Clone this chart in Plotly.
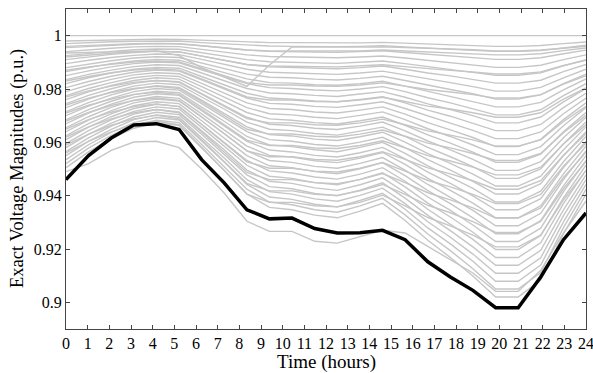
import plotly.graph_objects as go

# time stamps (hours)
hours = [0, 1.04, 2.09, 3.13, 4.17, 5.22, 6.26, 7.30, 8.35, 9.39, 10.43, 11.48,
         12.52, 13.57, 14.61, 15.65, 16.70, 17.74, 18.78, 19.83, 20.87, 21.91, 22.96, 24]

# highlighted (lowest) bus
worst_bus = [0.946, 0.955, 0.9616, 0.9665, 0.967, 0.9648, 0.9535, 0.9448, 0.9347, 0.9313, 0.9316, 0.9277,
             0.926, 0.9261, 0.927, 0.9235, 0.9152, 0.9095, 0.9045, 0.898, 0.898, 0.9095, 0.9235, 0.9335]

# all other buses
other_buses = [
    [1.0] * 24,
    [.9980,.9982,.9984,.9986,.9987,.9986,.9983,.9980,.9976,.9974,.9974,.9973,.9972,.9973,.9975,.9972,.9969,.9966,.9964,.9960,.9960,.9963,.9970,.9976],
    [.9970,.9974,.9977,.9979,.9980,.9980,.9974,.9969,.9964,.9961,.9960,.9959,.9959,.9960,.9962,.9958,.9953,.9950,.9945,.9941,.9941,.9944,.9955,.9964],
    [.9955,.9960,.9965,.9968,.9970,.9969,.9962,.9954,.9946,.9941,.9941,.9939,.9938,.9940,.9943,.9937,.9930,.9924,.9918,.9911,.9911,.9917,.9932,.9946],
    [.9940,.9947,.9953,.9958,.9960,.9959,.9949,.9939,.9928,.9922,.9921,.9918,.9917,.9920,.9924,.9916,.9907,.9899,.9891,.9881,.9881,.9889,.9910,.9928],
    [.9925,.9934,.9941,.9947,.9950,.9949,.9936,.9923,.9910,.9902,.9901,.9898,.9896,.9900,.9905,.9895,.9884,.9874,.9863,.9851,.9851,.9861,.9887,.9910],
    [.9910,.9921,.9930,.9937,.9941,.9939,.9923,.9908,.9892,.9883,.9881,.9878,.9876,.9880,.9886,.9874,.9860,.9849,.9836,.9822,.9822,.9833,.9865,.9892],
    [.9895,.9908,.9918,.9926,.9931,.9929,.9911,.9893,.9874,.9863,.9861,.9857,.9855,.9860,.9867,.9853,.9837,.9824,.9809,.9792,.9792,.9806,.9842,.9874],
    [.9880,.9894,.9906,.9916,.9921,.9918,.9898,.9878,.9856,.9844,.9842,.9837,.9834,.9840,.9848,.9832,.9814,.9798,.9782,.9762,.9762,.9778,.9820,.9856],
    [.9865,.9881,.9895,.9905,.9911,.9908,.9885,.9862,.9838,.9824,.9822,.9816,.9814,.9820,.9829,.9811,.9791,.9773,.9754,.9733,.9733,.9750,.9797,.9838],
    [.9850,.9868,.9883,.9895,.9901,.9898,.9872,.9847,.9820,.9805,.9802,.9796,.9793,.9800,.9809,.9790,.9767,.9748,.9727,.9703,.9703,.9722,.9775,.9820],
    [.9835,.9855,.9871,.9884,.9891,.9888,.9860,.9832,.9802,.9785,.9782,.9776,.9772,.9781,.9790,.9769,.9744,.9723,.9700,.9673,.9673,.9695,.9752,.9802],
    [.9820,.9842,.9860,.9874,.9881,.9878,.9847,.9816,.9784,.9766,.9762,.9755,.9752,.9761,.9771,.9748,.9721,.9698,.9672,.9644,.9644,.9667,.9730,.9784],
    [.9805,.9828,.9848,.9863,.9871,.9867,.9834,.9801,.9766,.9746,.9743,.9735,.9731,.9741,.9752,.9727,.9698,.9672,.9645,.9614,.9614,.9639,.9707,.9766],
    [.9790,.9815,.9836,.9853,.9861,.9857,.9821,.9786,.9748,.9727,.9723,.9714,.9710,.9721,.9733,.9706,.9674,.9647,.9618,.9584,.9584,.9611,.9685,.9748],
    [.9775,.9802,.9824,.9842,.9851,.9847,.9809,.9770,.9730,.9707,.9703,.9694,.9689,.9701,.9714,.9685,.9651,.9622,.9590,.9554,.9554,.9584,.9662,.9730],
    [.9760,.9789,.9813,.9832,.9842,.9837,.9796,.9755,.9712,.9688,.9683,.9674,.9669,.9681,.9695,.9664,.9628,.9597,.9563,.9525,.9525,.9556,.9640,.9712],
    [.9745,.9776,.9801,.9821,.9832,.9827,.9783,.9740,.9694,.9668,.9663,.9653,.9648,.9661,.9676,.9643,.9605,.9572,.9536,.9495,.9495,.9528,.9617,.9694],
    [.9730,.9762,.9789,.9811,.9822,.9816,.9770,.9725,.9676,.9649,.9644,.9633,.9627,.9641,.9657,.9622,.9581,.9546,.9509,.9465,.9465,.9500,.9595,.9676],
    [.9715,.9749,.9778,.9800,.9812,.9806,.9758,.9709,.9658,.9629,.9624,.9612,.9607,.9621,.9638,.9601,.9558,.9521,.9481,.9436,.9436,.9473,.9572,.9658],
    [.9700,.9736,.9766,.9790,.9802,.9796,.9745,.9694,.9640,.9610,.9604,.9592,.9586,.9601,.9619,.9580,.9535,.9496,.9454,.9406,.9406,.9445,.9550,.9640],
    [.9685,.9723,.9754,.9779,.9792,.9786,.9732,.9679,.9622,.9590,.9584,.9572,.9565,.9581,.9600,.9559,.9512,.9471,.9427,.9376,.9376,.9417,.9527,.9622],
    [.9670,.9710,.9743,.9769,.9782,.9776,.9719,.9663,.9604,.9571,.9564,.9551,.9545,.9561,.9581,.9538,.9488,.9446,.9399,.9347,.9347,.9389,.9505,.9604],
    [.9655,.9696,.9731,.9758,.9772,.9765,.9707,.9648,.9586,.9551,.9545,.9531,.9524,.9541,.9562,.9517,.9465,.9420,.9372,.9317,.9317,.9362,.9482,.9586],
    [.9640,.9683,.9719,.9748,.9762,.9755,.9694,.9633,.9568,.9532,.9525,.9510,.9503,.9521,.9543,.9496,.9442,.9395,.9345,.9287,.9287,.9334,.9460,.9568],
    [.9625,.9670,.9707,.9737,.9752,.9745,.9681,.9617,.9550,.9512,.9505,.9490,.9482,.9501,.9524,.9475,.9419,.9370,.9317,.9257,.9257,.9306,.9437,.9550],
    [.9610,.9657,.9696,.9727,.9743,.9735,.9668,.9602,.9532,.9493,.9485,.9470,.9462,.9481,.9505,.9454,.9395,.9345,.9290,.9228,.9228,.9278,.9415,.9532],
    [.9595,.9644,.9684,.9716,.9733,.9725,.9656,.9587,.9514,.9473,.9465,.9449,.9441,.9461,.9486,.9433,.9372,.9320,.9263,.9198,.9198,.9251,.9392,.9514],
    [.9580,.9630,.9672,.9706,.9723,.9714,.9643,.9572,.9496,.9454,.9446,.9429,.9420,.9441,.9467,.9412,.9349,.9294,.9236,.9168,.9168,.9223,.9370,.9496],
    [.9565,.9617,.9661,.9695,.9713,.9704,.9630,.9556,.9478,.9434,.9426,.9408,.9400,.9421,.9448,.9391,.9326,.9269,.9208,.9139,.9139,.9195,.9347,.9478],
    [.9550,.9604,.9649,.9685,.9703,.9694,.9617,.9541,.9460,.9415,.9406,.9388,.9379,.9401,.9428,.9370,.9302,.9244,.9181,.9109,.9109,.9167,.9325,.9460],
    [.9535,.9591,.9637,.9674,.9693,.9684,.9605,.9526,.9442,.9395,.9386,.9368,.9358,.9382,.9409,.9349,.9279,.9219,.9154,.9079,.9079,.9140,.9302,.9442],
    [.9520,.9578,.9626,.9664,.9683,.9674,.9592,.9510,.9424,.9376,.9366,.9347,.9338,.9362,.9390,.9328,.9256,.9194,.9126,.9050,.9050,.9112,.9280,.9424],
    [.9505,.9564,.9614,.9653,.9673,.9663,.9579,.9495,.9406,.9356,.9347,.9327,.9317,.9342,.9371,.9307,.9233,.9168,.9099,.9020,.9020,.9084,.9257,.9406],
    [.9960,.9964,.9967,.9970,.9971,.9970,.9962,.9954,.9946,.9943,.9943,.9942,.9942,.9943,.9946,.9942,.9938,.9935,.9932,.9928,.9928,.9932,.9944,.9954],
    [.9920,.9928,.9934,.9939,.9942,.9939,.9924,.9908,.9892,.9886,.9886,.9884,.9883,.9886,.9891,.9884,.9876,.9870,.9864,.9856,.9856,.9864,.9888,.9908],
    [.9870,.9883,.9893,.9901,.9905,.9901,.9876,.9850,.9824,.9815,.9815,.9811,.9810,.9815,.9823,.9811,.9798,.9789,.9779,.9766,.9766,.9779,.9818,.9850],
    [.9830,.9847,.9861,.9871,.9876,.9871,.9838,.9804,.9770,.9759,.9759,.9753,.9752,.9759,.9769,.9753,.9736,.9725,.9711,.9694,.9694,.9711,.9762,.9804],
    [.9770,.9793,.9811,.9825,.9832,.9825,.9781,.9735,.9689,.9673,.9673,.9666,.9664,.9673,.9687,.9666,.9643,.9627,.9609,.9586,.9586,.9609,.9678,.9735],
    [.9740,.9766,.9787,.9802,.9810,.9802,.9753,.9701,.9649,.9631,.9631,.9623,.9620,.9631,.9646,.9623,.9597,.9579,.9558,.9532,.9532,.9558,.9636,.9701],
    [.9710,.9739,.9762,.9780,.9788,.9780,.9724,.9666,.9608,.9588,.9588,.9579,.9577,.9588,.9606,.9579,.9550,.9530,.9507,.9478,.9478,.9507,.9594,.9666],
    [.9680,.9712,.9738,.9757,.9766,.9757,.9696,.9632,.9568,.9546,.9546,.9536,.9533,.9546,.9565,.9536,.9504,.9482,.9456,.9424,.9424,.9456,.9552,.9632],
    [.9650,.9685,.9713,.9734,.9744,.9734,.9667,.9597,.9527,.9503,.9503,.9492,.9489,.9503,.9524,.9492,.9457,.9433,.9405,.9370,.9370,.9405,.9510,.9597],
    [.9620,.9658,.9688,.9711,.9723,.9711,.9639,.9563,.9487,.9460,.9460,.9449,.9445,.9460,.9483,.9449,.9411,.9384,.9354,.9316,.9316,.9354,.9468,.9563],
    [.9590,.9631,.9664,.9688,.9701,.9688,.9610,.9528,.9446,.9418,.9418,.9405,.9401,.9418,.9442,.9405,.9364,.9336,.9303,.9262,.9262,.9303,.9426,.9528],
    [.9560,.9604,.9639,.9666,.9679,.9666,.9582,.9494,.9406,.9375,.9375,.9362,.9358,.9375,.9402,.9362,.9318,.9287,.9252,.9208,.9208,.9252,.9384,.9494],
    [.9490,.9520,.9570,.9601,.9604,.9580,.9500,.9410,.9304,.9266,.9266,.9229,.9222,.9247,.9270,.9260,.9210,.9160,.9110,.9041,.9041,.9120,.9260,.9380],
    [.9935,.9937,.9940,.9942,.9943,.9925,.9880,.9845,.9810,.9890,.9958,.9957,.9956,.9957,.9958,.9956,.9953,.9950,.9947,.9943,.9943,.9946,.9953,.9960],
]

x_ticks = list(range(0, 25))
y_ticks = [0.9, 0.92, 0.94, 0.96, 0.98, 1.0]
y_tick_labels = ["0.9", "0.92", "0.94", "0.96", "0.98", "1"]
x_title = "Time (hours)"
y_title = "Exact Voltage Magnitudes (p.u.)"

fig = go.Figure()
for v in other_buses:
    fig.add_trace(go.Scatter(x=hours, y=v, mode="lines",
                             line=dict(color="#c6c6c6", width=1.4),
                             hoverinfo="skip", showlegend=False))
fig.add_trace(go.Scatter(x=hours, y=worst_bus, mode="lines",
                         line=dict(color="#000000", width=3.5),
                         showlegend=False))

font_family = "Liberation Serif"
axis_common = dict(showgrid=False, zeroline=False, showline=True, linecolor="#444444",
                   linewidth=1, mirror="ticks", ticks="inside", ticklen=4,
                   tickcolor="#444444", automargin=False, ticklabeloverflow="allow",
                   tickfont=dict(family=font_family, size=16, color="#000"))

fig.update_layout(
    width=593, height=373,
    margin=dict(l=66, r=7, t=9, b=44),
    plot_bgcolor="white", paper_bgcolor="white",
    xaxis=dict(range=[0, 24], tickvals=x_ticks, **axis_common),
    yaxis=dict(range=[0.89, 1.01], tickvals=y_ticks, ticktext=y_tick_labels, **axis_common),
    annotations=[
        dict(text=x_title, xref="paper", yref="paper", x=0.5, y=0, xanchor="center",
             yanchor="middle", yshift=-33, showarrow=False,
             font=dict(family=font_family, size=19, color="#000")),
        dict(text=y_title, xref="paper", yref="paper", x=0, y=0.5, xanchor="center",
             yanchor="middle", xshift=-49, textangle=-90, showarrow=False,
             font=dict(family=font_family, size=18.5, color="#000")),
    ],
)

fig.write_html("out.html", config={"displayModeBar": False},
               post_script="document.body.style.margin='0';document.body.style.overflow='hidden';")
